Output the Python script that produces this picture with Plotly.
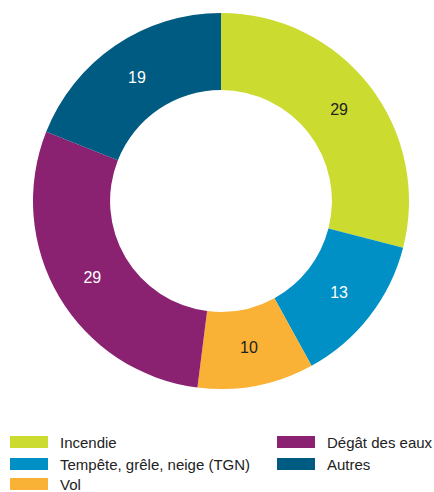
import plotly.graph_objects as go

labels = ["Incendie", "Tempête, grêle, neige (TGN)", "Vol", "Dégât des eaux", "Autres"]
values = [29, 13, 10, 29, 19]
colors = ["#cbdb2f", "#0090c5", "#f9b236", "#8a2171", "#005b82"]
text_colors = ["#222222", "#ffffff", "#222222", "#ffffff", "#ffffff"]

W, H = 434, 492
FONT = "Liberation Sans, Arial, sans-serif"

fig = go.Figure()
fig.add_trace(go.Pie(
    labels=labels, values=values, hole=0.59, sort=False, direction="clockwise",
    rotation=0, marker=dict(colors=colors, line=dict(width=0)),
    textinfo="value", textposition="inside",
    insidetextfont=dict(family=FONT, size=16, color=text_colors),
    insidetextorientation="horizontal",
    domain=dict(x=[32 / W, 410 / W], y=[1 - 389 / H, 1 - 13 / H]),
    showlegend=False, hoverinfo="label+value",
))

# custom legend: column-major, two columns
legend_pos = [(10, 442), (10, 464), (10, 484), (277, 442), (277, 464)]
shapes, annots = [], []
for (x, y), lab, c in zip(legend_pos, labels, colors):
    shapes.append(dict(type="rect", xref="paper", yref="paper",
                       x0=x / W, x1=(x + 38) / W,
                       y0=1 - (y + 6) / H, y1=1 - (y - 6) / H,
                       fillcolor=c, line=dict(width=0)))
    annots.append(dict(text=lab, xref="paper", yref="paper",
                       x=(x + 48) / W, y=1 - y / H, xanchor="left", yanchor="middle",
                       showarrow=False, font=dict(family=FONT, size=15, color="#222222")))

fig.update_layout(width=W, height=H, margin=dict(l=0, r=0, t=0, b=0),
                  paper_bgcolor="white", plot_bgcolor="white",
                  shapes=shapes, annotations=annots)
fig.write_html("out.html")
